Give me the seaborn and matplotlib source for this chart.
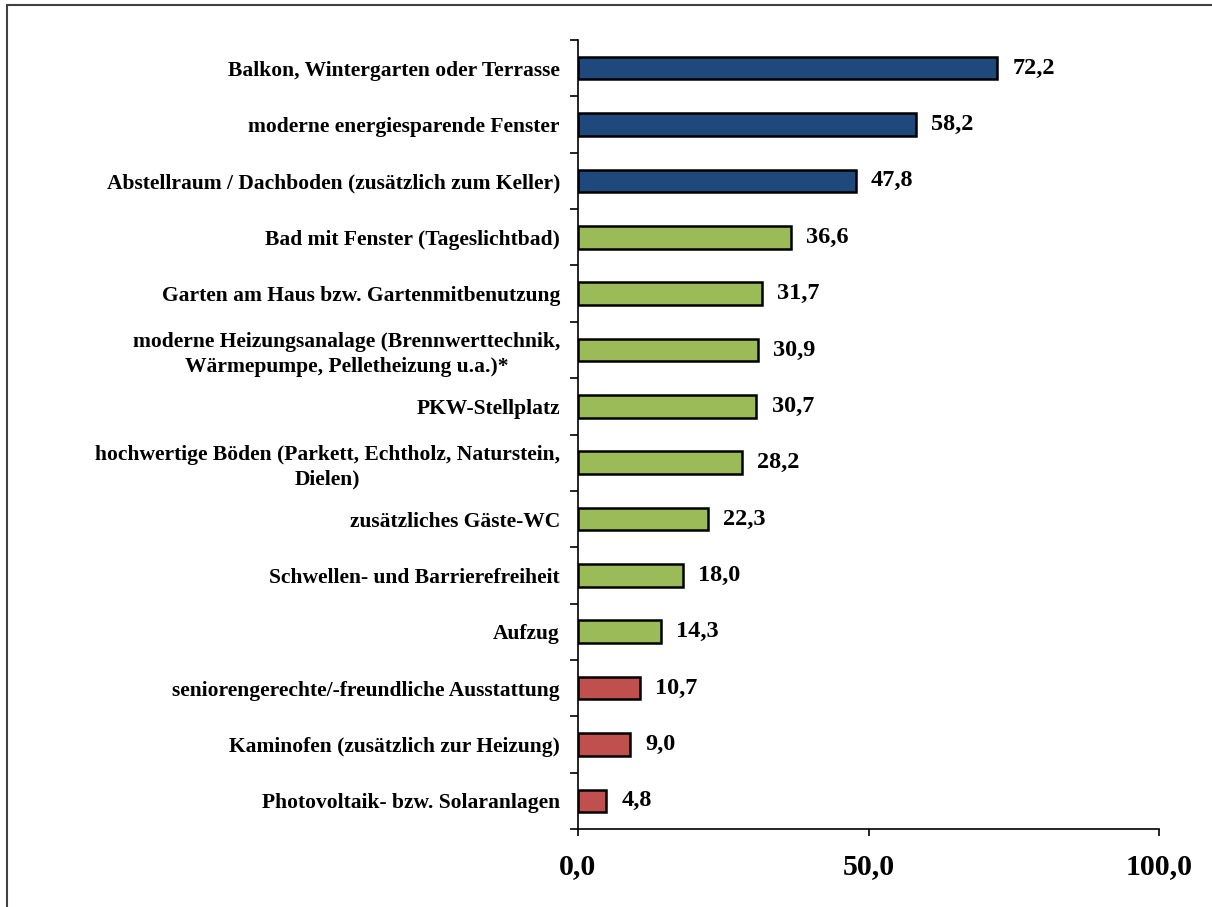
import matplotlib
matplotlib.use("Agg")
import matplotlib.pyplot as plt
import seaborn as sns
import pandas as pd
from matplotlib.ticker import FuncFormatter, FixedLocator
from matplotlib.patches import Rectangle

categories = [
    "Balkon, Wintergarten oder Terrasse",
    "moderne energiesparende Fenster",
    "Abstellraum / Dachboden (zusätzlich zum Keller)",
    "Bad mit Fenster (Tageslichtbad)",
    "Garten am Haus bzw. Gartenmitbenutzung",
    "moderne Heizungsanalage (Brennwerttechnik,\nWärmepumpe, Pelletheizung u.a.)*",
    "PKW-Stellplatz",
    "hochwertige Böden (Parkett, Echtholz, Naturstein,\nDielen)",
    "zusätzliches Gäste-WC",
    "Schwellen- und Barrierefreiheit",
    "Aufzug",
    "seniorengerechte/-freundliche Ausstattung",
    "Kaminofen (zusätzlich zur Heizung)",
    "Photovoltaik- bzw. Solaranlagen",
]
values = [72.2, 58.2, 47.8, 36.6, 31.7, 30.9, 30.7, 28.2, 22.3, 18.0, 14.3, 10.7, 9.0, 4.8]
groups = ["hoch"] * 3 + ["mittel"] * 8 + ["niedrig"] * 3
group_colors = {"hoch": "#1F497D", "mittel": "#9BBB59", "niedrig": "#C0504D"}
x_ticks = [0, 50, 100]

df = pd.DataFrame({"Kategorie": categories, "Wert": values, "Gruppe": groups})

sns.set_theme(style="white")
plt.rcParams["font.family"] = ["Liberation Serif", "DejaVu Serif"]
plt.rcParams["font.weight"] = "bold"
plt.rcParams["text.color"] = "black"
plt.rcParams["xtick.color"] = "black"
plt.rcParams["ytick.color"] = "black"

fig = plt.figure(figsize=(12.12, 9.07), dpi=100)
ax = fig.add_axes([578 / 1212, 1 - 829 / 907, (1159 - 578) / 1212, (829 - 40) / 907])

sns.barplot(data=df, y="Kategorie", x="Wert", hue="Gruppe", palette=group_colors,
            order=categories, dodge=False, width=0.4, edgecolor="black",
            linewidth=1.8, legend=False, saturation=1, ax=ax)

ax.set_xlim(0, 100)
ax.set_ylim(len(categories) - 0.5, -0.5)
ax.set_xlabel("")
ax.set_ylabel("")

for i, v in enumerate(values):
    ax.annotate(f"{v:.1f}".replace(".", ","), xy=(v, i), xytext=(11, 0),
                textcoords="offset points", va="center", ha="left",
                fontsize=17.5, fontweight="bold", color="black")

ax.xaxis.set_major_locator(FixedLocator(x_ticks))
ax.xaxis.set_major_formatter(FuncFormatter(lambda x, p: f"{x:.1f}".replace(".", ",")))
ax.tick_params(axis="x", which="major", direction="out", length=5, width=1.2,
               color="black", labelcolor="black", labelsize=21.5, pad=12, bottom=True)
for lab in ax.get_xticklabels():
    lab.set_fontweight("bold")

ax.yaxis.set_minor_locator(FixedLocator([i - 0.5 for i in range(len(categories) + 1)]))
ax.tick_params(axis="y", which="major", length=0, pad=13, labelsize=15.5,
               labelcolor="black")
ax.tick_params(axis="y", which="minor", direction="out", length=6, width=1.2,
               color="black", left=True)
for lab in ax.get_yticklabels():
    lab.set_fontweight("bold")
    lab.set_multialignment("center")
    lab.set_linespacing(1.3)

for s in ["top", "right"]:
    ax.spines[s].set_visible(False)
for s in ["left", "bottom"]:
    ax.spines[s].set_color("black")
    ax.spines[s].set_linewidth(1.2)
ax.grid(False)

fig.patches.append(Rectangle((7 / 1212, -0.5), 2.0, 1.5 - 5 / 907,
                             transform=fig.transFigure, fill=False,
                             edgecolor="#404040", linewidth=1.5, zorder=0))

fig.savefig("out.png", dpi=100, facecolor="white")
